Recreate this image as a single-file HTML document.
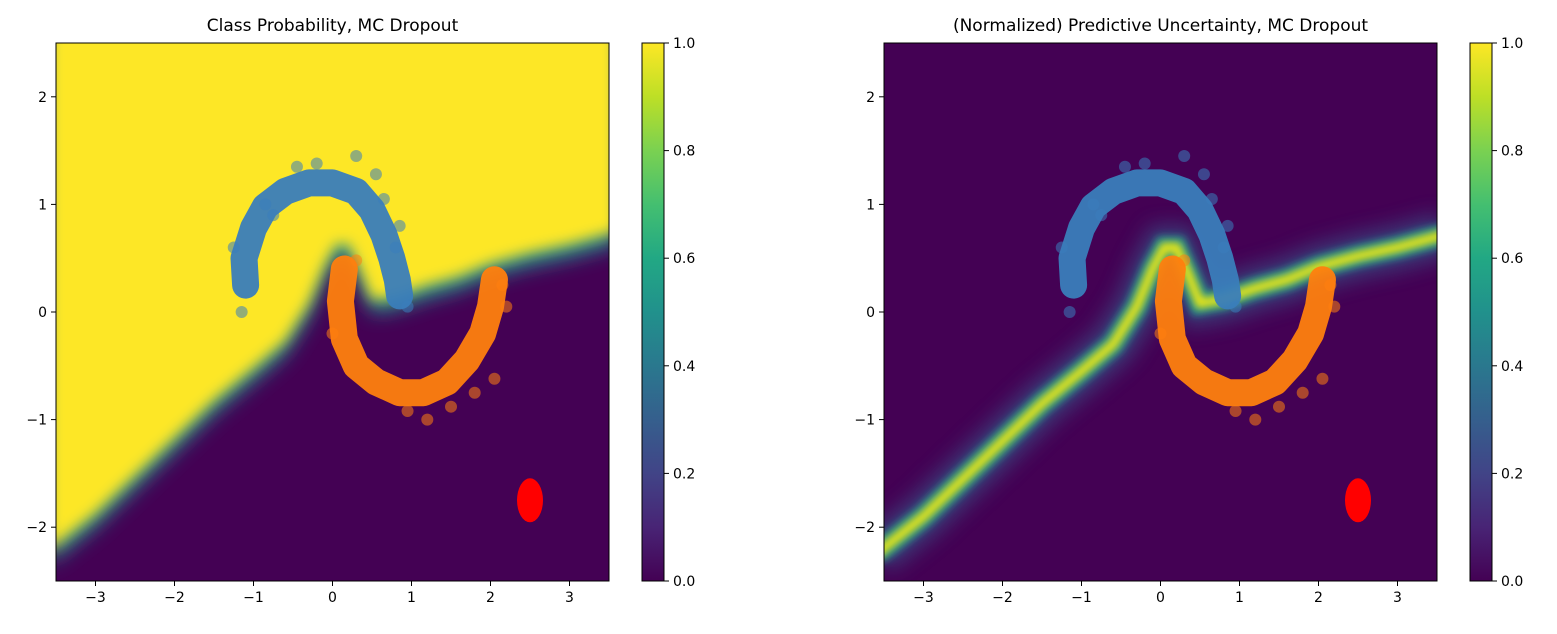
<!DOCTYPE html>
<html><head><meta charset="utf-8"><style>
body{margin:0;background:#fff;font-family:"Liberation Sans","DejaVu Sans",sans-serif;}
svg text{font-family:"DejaVu Sans","Liberation Sans",sans-serif;}
</style></head><body>
<svg id="c" width="1557" height="629">
<defs>
<linearGradient id="vir" x1="0" y1="1" x2="0" y2="0">
<stop offset="0" stop-color="#440154"/><stop offset="0.1" stop-color="#482475"/><stop offset="0.2" stop-color="#414487"/><stop offset="0.3" stop-color="#355f8d"/><stop offset="0.4" stop-color="#2a788e"/><stop offset="0.5" stop-color="#21918c"/><stop offset="0.6" stop-color="#22a884"/><stop offset="0.7" stop-color="#44bf70"/><stop offset="0.8" stop-color="#7ad151"/><stop offset="0.9" stop-color="#bddf26"/><stop offset="1" stop-color="#fde725"/>
</linearGradient>
<filter id="b1" x="-20%" y="-20%" width="140%" height="140%"><feGaussianBlur stdDeviation="7"/></filter>
<filter id="b2" x="-20%" y="-20%" width="140%" height="140%"><feGaussianBlur stdDeviation="4"/></filter>
<filter id="b3" x="-20%" y="-20%" width="140%" height="140%"><feGaussianBlur stdDeviation="10"/></filter>
<clipPath id="cl"><rect x="56" y="43" width="553" height="538"/></clipPath>
<clipPath id="cr"><rect x="884" y="43" width="553" height="538"/></clipPath>
</defs>
</svg>
<script>
// data
const xTicks=[-3,-2,-1,0,1,2,3];
const yTicks=[-2,-1,0,1,2];
const cbTicks=[0.0,0.2,0.4,0.6,0.8,1.0];
const boundaryX=[-3.6,-3.0,-2.5,-2.0,-1.5,-1.0,-0.6,-0.3,-0.1,0.05,0.2,0.35,0.5,0.8,1.2,1.6,2.0,2.5,3.0,3.6];
const boundaryY=[-2.25,-1.9,-1.55,-1.2,-0.85,-0.55,-0.3,0.05,0.4,0.6,0.6,0.35,0.08,0.12,0.22,0.3,0.42,0.52,0.6,0.72];
const blueX=[-1.1,-1.12,-1.0,-0.85,-0.6,-0.3,0.0,0.3,0.5,0.65,0.75,0.82,0.85];
const blueY=[0.25,0.5,0.78,0.98,1.12,1.2,1.2,1.12,0.95,0.72,0.5,0.3,0.15];
const orangeX=[0.15,0.1,0.15,0.3,0.55,0.85,1.15,1.45,1.7,1.9,2.0,2.05];
const orangeY=[0.4,0.1,-0.25,-0.5,-0.65,-0.75,-0.75,-0.65,-0.45,-0.2,0.05,0.3];
const blueOutX=[0.3,-0.45,0.65,0.85,-1.25,-1.15,-0.2,0.55,0.8,-0.85,0.95,-0.75];
const blueOutY=[1.45,1.35,1.05,0.8,0.6,0.0,1.38,1.28,0.6,1.0,0.05,0.9];
const orangeOutX=[1.2,0.95,0.3,1.8,2.2,2.15,0.0,2.05,1.5];
const orangeOutY=[-1.0,-0.92,0.48,-0.75,0.05,0.25,-0.2,-0.62,-0.88];
const redX=[2.5],redY=[-1.75];

const NS='http://www.w3.org/2000/svg';
const svg=document.getElementById('c');
function mk(t,a,p){const e=document.createElementNS(NS,t);for(const k in a)e.setAttribute(k,a[k]);(p||svg).appendChild(e);return e;}
function panel(ox,isUnc){
  const W=553,H=538,oy=43;
  const sx=v=>ox+(v+3.5)/7*W, sy=v=>oy+(2.5-v)/5*H;
  const g=mk('g',{'clip-path':isUnc?'url(#cr)':'url(#cl)'});
  
  
  mk('rect',{x:ox,y:oy,width:W,height:H,fill:'#440154'},g);
  let d='';boundaryX.forEach((x,i)=>{d+=(i?'L':'M')+sx(x)+','+sy(boundaryY[i]);});
  if(!isUnc){
    mk('path',{d:d+'L'+sx(3.6)+','+sy(2.7)+'L'+sx(-3.6)+','+sy(2.7)+'Z',fill:'#21918c',filter:'url(#b3)',transform:'translate(0,10)'},g);
    mk('path',{d:d+'L'+sx(3.6)+','+sy(2.7)+'L'+sx(-3.6)+','+sy(2.7)+'Z',fill:'#fde725',filter:'url(#b1)',transform:'translate(0,-3)'},g);
  }else{
    mk('path',{d:d,fill:'none',stroke:'#355f8d',"stroke-width":44,filter:'url(#b3)',opacity:0.6},g);
    mk('path',{d:d,fill:'none',stroke:'#21918c',"stroke-width":22,filter:'url(#b2)'},g);
    mk('path',{d:d,fill:'none',stroke:'#e5e419',"stroke-width":10,filter:'url(#b2)'},g);
  }
  function moon(xs,ys,col,name,ox2,oy2){
    let p='';xs.forEach((x,i)=>{p+=(i?'L':'M')+sx(x)+','+sy(ys[i]);});
    const e=mk('path',{d:p,fill:'none',stroke:col,'stroke-width':27,'stroke-linecap':'round','stroke-linejoin':'round',opacity:0.95},g);
    
    
    ox2.forEach((x,i)=>{const c=mk('circle',{cx:sx(x),cy:sy(oy2[i]),r:6,fill:col,opacity:0.55},g);
      
      });
  }
  moon(blueX,blueY,'#3a7dbb','blue-moon-points',blueOutX,blueOutY);
  moon(orangeX,orangeY,'#ff7f0e','orange-moon-points',orangeOutX,orangeOutY);
  const r=mk('ellipse',{cx:sx(redX[0]),cy:sy(redY[0]),rx:13,ry:22,fill:'#ff0000'},g);
  
  
  const fr=mk('rect',{x:ox,y:oy,width:W,height:H,fill:'none',stroke:'#000','stroke-width':1});
  
  
  xTicks.forEach(t=>{mk('line',{x1:sx(t),x2:sx(t),y1:oy+H,y2:oy+H+5,stroke:'#000'});
    const tx=mk('text',{x:sx(t),y:oy+H+21,'font-size':14,'text-anchor':'middle'});tx.textContent=t<0?'\u2212'+(-t):t;
    });
  yTicks.forEach(t=>{mk('line',{x1:ox-5,x2:ox,y1:sy(t),y2:sy(t),stroke:'#000'});
    const tx=mk('text',{x:ox-9,y:sy(t)+5,'font-size':14,'text-anchor':'end'});tx.textContent=t<0?'\u2212'+(-t):t;
    });
  const ti=mk('text',{x:ox+W/2,y:31,'font-size':17,'text-anchor':'middle'});
  ti.textContent=isUnc?'(Normalized) Predictive Uncertainty, MC Dropout':'Class Probability, MC Dropout';
  
  const cx=ox+586;
  const cb=mk('rect',{x:cx,y:oy,width:22,height:H,fill:'url(#vir)',stroke:'#000','stroke-width':1});
  
  cbTicks.forEach(t=>{const y=oy+H-t*H;mk('line',{x1:cx+22,x2:cx+27,y1:y,y2:y,stroke:'#000'});
    const tx=mk('text',{x:cx+31,y:y+5,'font-size':14});tx.textContent=t.toFixed(1);
    });
}
panel(56,false);
panel(884,true);
</script>
</body></html>
